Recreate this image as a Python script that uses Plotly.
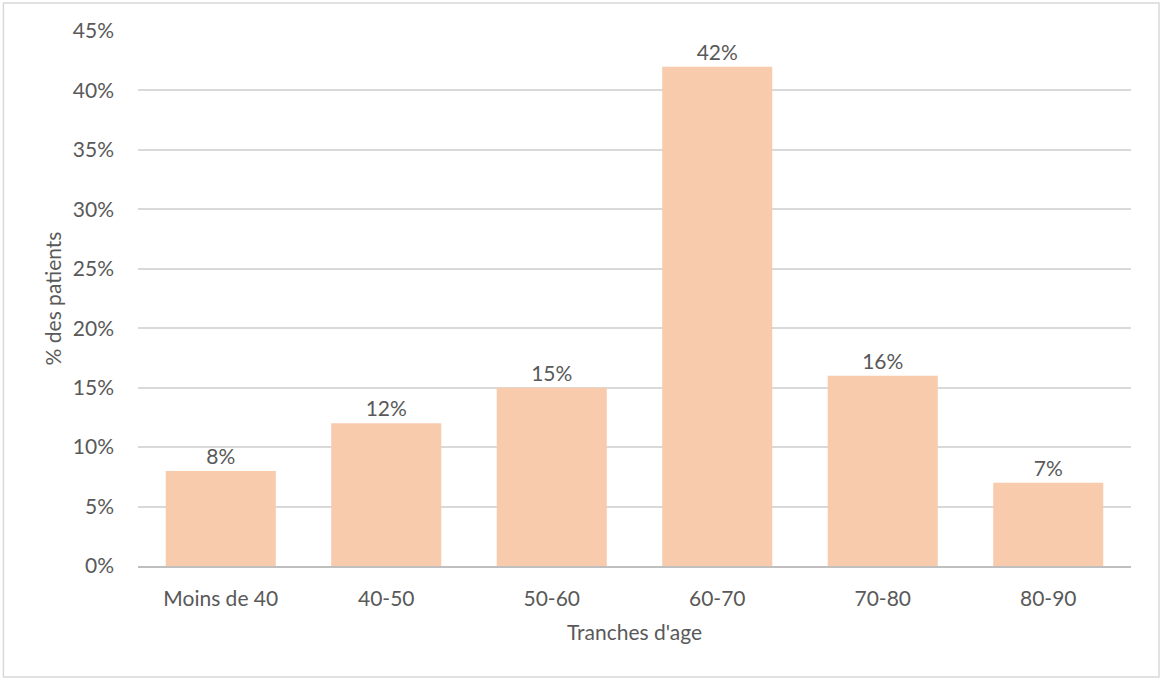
import plotly.graph_objects as go

# Répartition des patients par tranche d'âge
categories = ["Moins de 40", "40-50", "50-60", "60-70", "70-80", "80-90"]
pct_patients = [8, 12, 15, 42, 16, 7]
y_ticks = [0, 5, 10, 15, 20, 25, 30, 35, 40, 45]

TEXT = "#595959"
FONT = "Lato, Calibri, 'Open Sans', sans-serif"
SIZE = 21

fig = go.Figure(
    go.Bar(
        x=categories,
        y=pct_patients,
        text=[f"{v}%" for v in pct_patients],
        texttemplate="%{text}",
        marker=dict(color="#F8CBAD", line=dict(width=0)),
        textposition="outside",
        textfont=dict(size=SIZE, color=TEXT, family=FONT),
        cliponaxis=False,
        hovertemplate="%{x}: %{text}<extra></extra>",
    )
)

fig.update_layout(
    width=1161,
    height=680,
    margin=dict(l=138, r=30, t=31, b=114),
    paper_bgcolor="white",
    plot_bgcolor="white",
    bargap=0.335,
    showlegend=False,
    font=dict(family=FONT, size=SIZE, color=TEXT),
    shapes=[
        # cadre gris autour du graphique
        dict(
            type="rect", xref="paper", yref="paper",
            x0=-0.1355, x1=1.0282, y0=-0.2075, y1=1.0523,
            line=dict(color="#d9d9d9", width=1.5),
            fillcolor="rgba(0,0,0,0)", layer="below",
        )
    ],
)

fig.update_yaxes(
    range=[0, 45],
    tickvals=y_ticks,
    ticktext=[f"{v}%" for v in y_ticks],
    showgrid=True,
    gridcolor="#d9d9d9",
    gridwidth=1.5,
    zeroline=False,
    showline=False,
    ticks="",
    ticklabelstandoff=23,
    tickfont=dict(size=SIZE, color=TEXT),
    title=dict(text="% des patients", font=dict(size=SIZE, color=TEXT), standoff=5),
)

fig.update_xaxes(
    showgrid=False,
    showline=True,
    linecolor="#bfbfbf",
    linewidth=2,
    ticks="",
    ticklabelstandoff=13,
    tickfont=dict(size=SIZE, color=TEXT),
    title=dict(text="Tranches d'age", font=dict(size=SIZE, color=TEXT), standoff=16),
)

fig.write_html("out.html")
